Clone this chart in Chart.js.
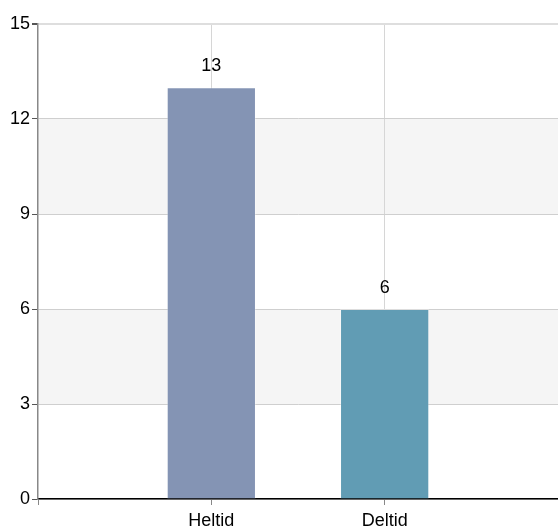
<!DOCTYPE html>
<html>
<head>
<meta charset="utf-8">
<script src="https://cdn.jsdelivr.net/npm/chart.js@4.4.1/dist/chart.umd.min.js"></script>
<style>
  html, body { margin: 0; padding: 0; background: #fff; }
  #wrap { width: 558px; height: 531px; }
</style>
</head>
<body>
<div id="wrap"><canvas id="chart" width="558" height="531"></canvas></div>
<script>
const categories = ['Heltid', 'Deltid'];
const values = [13, 6];
const barColors = ['#8494b4', '#619cb4'];
const yTicks = [0, 3, 6, 9, 12, 15];

// pad with empty slots so the two bars sit at 1/3 and 2/3 of the width
const labels = [''].concat(categories, ['']);
const padded = [null].concat(values, [null]);
const paddedColors = ['#fff'].concat(barColors, ['#fff']);

const FONT = '"Liberation Sans", Arial, sans-serif';

const bandsPlugin = {
    id: 'bands',
    beforeDraw(chart) {
        const ctx = chart.ctx;
        const area = chart.chartArea;
        const y = chart.scales.y;
        ctx.save();
        ctx.fillStyle = '#f5f5f5';
        for (let i = 1; i < yTicks.length - 1; i += 2) {
            const top = y.getPixelForValue(yTicks[i + 1]);
            const bottom = y.getPixelForValue(yTicks[i]);
            ctx.fillRect(area.left, top, area.right - area.left, bottom - top);
        }
        ctx.restore();
    }
};

const valueLabels = {
    id: 'valueLabels',
    afterDatasetsDraw(chart) {
        const ctx = chart.ctx;
        const meta = chart.getDatasetMeta(0);
        ctx.save();
        ctx.font = '18px ' + FONT;
        ctx.fillStyle = '#000';
        ctx.textAlign = 'center';
        ctx.textBaseline = 'middle';
        meta.data.forEach(function(bar, i) {
            if (padded[i] == null) return;
            ctx.fillText(String(padded[i]), bar.x, bar.y - 21);
        });
        ctx.restore();
    }
};

new Chart(document.getElementById('chart'), {
    type: 'bar',
    data: {
        labels: labels,
        datasets: [{
            data: padded,
            backgroundColor: paddedColors,
            borderColor: 'rgba(255,255,255,0.3)',
            borderWidth: 1,
            categoryPercentage: 1,
            barPercentage: 0.515
        }]
    },
    options: {
        responsive: false,
        animation: false,
        layout: { padding: { top: 24, right: 0, left: 0, bottom: 0 } },
        plugins: {
            legend: { display: false },
            tooltip: { enabled: false }
        },
        scales: {
            x: {
                offset: false,
                grid: {
                    offset: false,
                    color: function(c) {
                        return (c.index === 1 || c.index === 2) ? '#d6d6d6' : 'rgba(0,0,0,0)';
                    },
                    tickColor: function(c) {
                        return c.index === 3 ? 'rgba(0,0,0,0)' : '#888';
                    },
                    tickLength: 6
                },
                border: { color: '#000', width: 1.5 },
                ticks: {
                    color: '#000',
                    padding: 5,
                    maxRotation: 0,
                    autoSkip: false,
                    font: { family: FONT, size: 18 }
                },
                afterFit(scale) {
                    scale.height = 32;
                    scale.paddingRight = 0;
                    scale.paddingLeft = 0;
                }
            },
            y: {
                min: 0,
                max: 15,
                afterBuildTicks(scale) {
                    scale.ticks = yTicks.map(function(v) { return { value: v }; });
                },
                grid: {
                    color: function(c) { return c.tick && c.tick.value === 15 ? '#dedede' : '#cfcfcf'; },
                    lineWidth: function(c) { return c.tick && c.tick.value === 15 ? 2 : 1; },
                    tickColor: '#555',
                    tickLength: 6
                },
                border: { color: '#888', width: 1.5 },
                ticks: {
                    color: '#000',
                    padding: 2,
                    font: { family: FONT, size: 18 }
                },
                afterFit(scale) {
                    scale.width = 38;
                    scale.paddingTop = 0;
                    scale.paddingBottom = 0;
                }
            }
        }
    },
    plugins: [bandsPlugin, valueLabels]
});
</script>
</body>
</html>
